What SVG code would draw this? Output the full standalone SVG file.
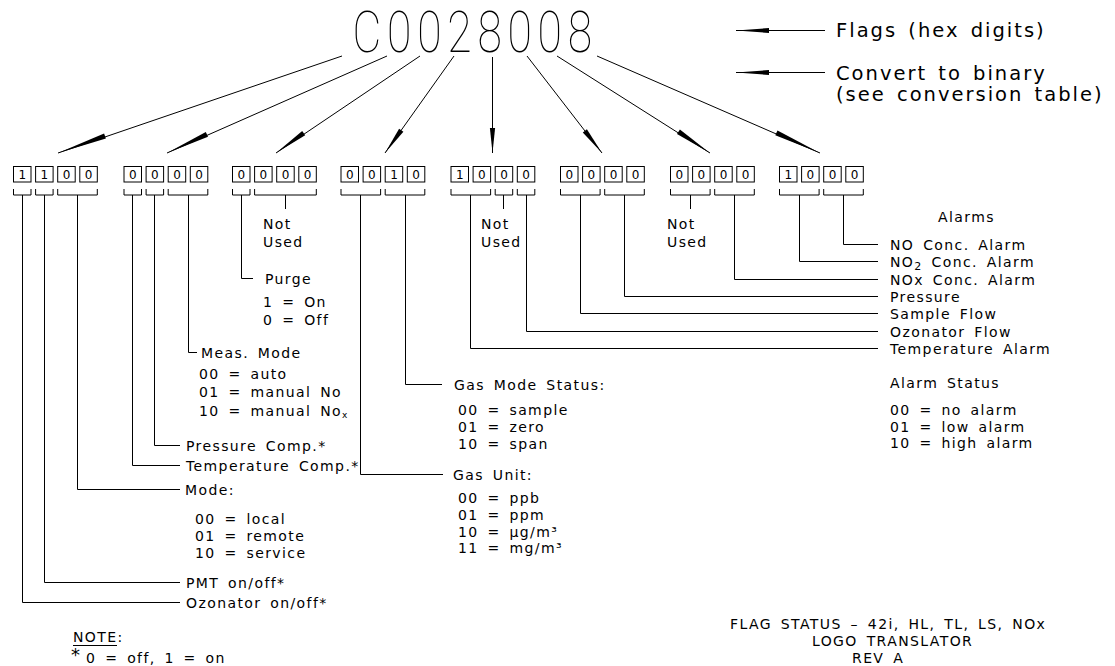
<svg xmlns="http://www.w3.org/2000/svg" width="1115" height="666" viewBox="0 0 1115 666">
<style>
.t{font-family:"DejaVu Sans","Liberation Sans",sans-serif;font-size:14px;letter-spacing:1.4px;word-spacing:3px;fill:#000}
.big{font-size:19.5px;letter-spacing:2px;word-spacing:3px}
.ttl{font-family:"Roboto","Liberation Sans",sans-serif;font-size:57px;font-weight:100;letter-spacing:7.4px;fill:#000}
.d{font-family:"DejaVu Sans","Liberation Sans",sans-serif;font-size:12px;text-anchor:middle;fill:#000}
.bx{fill:#fff;stroke:#000;stroke-width:1}
.ln{fill:none;stroke:#000;stroke-width:1}
.hd{fill:#000;stroke:none}
</style>

<g id="title"><text class="ttl" transform="translate(352.5 52) scale(0.78 1)">C0028008</text></g>

<g id="legend">
<text class="t big" x="836" y="37">Flags (hex digits)</text>
<text class="t big" x="836" y="80">Convert to binary</text>
<text class="t big" x="836" y="101">(see conversion table)</text>
</g>

<g id="bits">
<g id="byte1"><rect class="bx" x="13.5" y="166.5" width="17.5" height="15.5"/><rect class="bx" x="35.6" y="166.5" width="17.5" height="15.5"/><rect class="bx" x="57.7" y="166.5" width="17.5" height="15.5"/><rect class="bx" x="79.8" y="166.5" width="17.5" height="15.5"/>
<text class="d" x="22.3" y="178.5">1</text><text class="d" x="44.4" y="178.5">1</text><text class="d" x="66.5" y="178.5">0</text><text class="d" x="88.6" y="178.5">0</text></g>
<g id="byte2"><rect class="bx" x="124" y="166.5" width="17.5" height="15.5"/><rect class="bx" x="146.1" y="166.5" width="17.5" height="15.5"/><rect class="bx" x="168.2" y="166.5" width="17.5" height="15.5"/><rect class="bx" x="190.3" y="166.5" width="17.5" height="15.5"/>
<text class="d" x="132.8" y="178.5">0</text><text class="d" x="154.9" y="178.5">0</text><text class="d" x="177" y="178.5">0</text><text class="d" x="199.1" y="178.5">0</text></g>
<g id="byte3"><rect class="bx" x="232.5" y="166.5" width="17.5" height="15.5"/><rect class="bx" x="254.6" y="166.5" width="17.5" height="15.5"/><rect class="bx" x="276.7" y="166.5" width="17.5" height="15.5"/><rect class="bx" x="298.8" y="166.5" width="17.5" height="15.5"/>
<text class="d" x="241.3" y="178.5">0</text><text class="d" x="263.4" y="178.5">0</text><text class="d" x="285.5" y="178.5">0</text><text class="d" x="307.6" y="178.5">0</text></g>
<g id="byte4"><rect class="bx" x="341" y="166.5" width="17.5" height="15.5"/><rect class="bx" x="363.1" y="166.5" width="17.5" height="15.5"/><rect class="bx" x="385.2" y="166.5" width="17.5" height="15.5"/><rect class="bx" x="407.3" y="166.5" width="17.5" height="15.5"/>
<text class="d" x="349.8" y="178.5">0</text><text class="d" x="371.9" y="178.5">0</text><text class="d" x="394" y="178.5">1</text><text class="d" x="416.1" y="178.5">0</text></g>
<g id="byte5"><rect class="bx" x="451" y="166.5" width="17.5" height="15.5"/><rect class="bx" x="473.1" y="166.5" width="17.5" height="15.5"/><rect class="bx" x="495.2" y="166.5" width="17.5" height="15.5"/><rect class="bx" x="517.3" y="166.5" width="17.5" height="15.5"/>
<text class="d" x="459.8" y="178.5">1</text><text class="d" x="481.9" y="178.5">0</text><text class="d" x="504" y="178.5">0</text><text class="d" x="526.1" y="178.5">0</text></g>
<g id="byte6"><rect class="bx" x="560.5" y="166.5" width="17.5" height="15.5"/><rect class="bx" x="582.6" y="166.5" width="17.5" height="15.5"/><rect class="bx" x="604.7" y="166.5" width="17.5" height="15.5"/><rect class="bx" x="626.8" y="166.5" width="17.5" height="15.5"/>
<text class="d" x="569.3" y="178.5">0</text><text class="d" x="591.4" y="178.5">0</text><text class="d" x="613.5" y="178.5">0</text><text class="d" x="635.6" y="178.5">0</text></g>
<g id="byte7"><rect class="bx" x="670.5" y="166.5" width="17.5" height="15.5"/><rect class="bx" x="692.6" y="166.5" width="17.5" height="15.5"/><rect class="bx" x="714.7" y="166.5" width="17.5" height="15.5"/><rect class="bx" x="736.8" y="166.5" width="17.5" height="15.5"/>
<text class="d" x="679.3" y="178.5">0</text><text class="d" x="701.4" y="178.5">0</text><text class="d" x="723.5" y="178.5">0</text><text class="d" x="745.6" y="178.5">0</text></g>
<g id="byte8"><rect class="bx" x="779.5" y="166.5" width="17.5" height="15.5"/><rect class="bx" x="801.6" y="166.5" width="17.5" height="15.5"/><rect class="bx" x="823.7" y="166.5" width="17.5" height="15.5"/><rect class="bx" x="845.8" y="166.5" width="17.5" height="15.5"/>
<text class="d" x="788.3" y="178.5">1</text><text class="d" x="810.4" y="178.5">0</text><text class="d" x="832.5" y="178.5">0</text><text class="d" x="854.6" y="178.5">0</text></g>
</g>

<g id="connectors">
<path class="ln" d="M342,56L58,153 M387,56L167,153 M420,56L276,153 M454,56L385,153 M492.5,57V153 M527,56L602,153 M557,56L710,153 M597,56L820,153 M825,30.5H736 M825,72.5H736"/>
<polygon class="hd" points="58,153 104.1,133.5 105.9,138.4"/>
<polygon class="hd" points="167,153 205.8,132 208,136.7"/>
<polygon class="hd" points="276,153 302.2,131.1 305.2,135.3"/>
<polygon class="hd" points="385,153 399.1,128.7 403.4,131.7"/>
<polygon class="hd" points="492.5,153 489.9,128 495.1,128"/>
<polygon class="hd" points="602,153 582.8,132.4 586.9,129.3"/>
<polygon class="hd" points="710,153 677,133.9 679.9,129.6"/>
<polygon class="hd" points="820,153 775.3,135.2 777.5,130.5"/>
<polygon class="hd" points="736,30.5 769,28 769,33"/>
<polygon class="hd" points="736,72.5 769,70 769,75"/>
<path class="ln" d="M13.5,189v6h17.5v-6 M35.6,189v6h17.5v-6 M57.7,189v6h39.6v-6
M124,189v6h17.5v-6 M146.1,189v6h17.5v-6 M168.2,189v6h39.6v-6
M232.5,189v6h17.5v-6 M254.6,189v6h61.7v-6
M341,189v6h39.6v-6 M385.2,189v6h39.6v-6
M451,189v6h39.6v-6 M495.2,189v6h17.5v-6 M517.3,189v6h17.5v-6
M560.5,189v6h39.6v-6 M604.7,189v6h39.6v-6
M670.5,189v6h39.6v-6 M714.7,189v6h39.6v-6
M779.5,189v6h39.6v-6 M823.7,189v6h39.6v-6"/>
<path class="ln" d="M22.5,195V602.5H180 M44.5,195V582.5H180 M77.5,195V489.5H180
M132.5,195V465.5H180 M154.5,195V445.5H180 M188.5,195V352.5H197
M241.5,195V278.5H253 M285.5,195V209
M360.5,195V474.5H443 M405.5,195V384.5H442
M470.5,195V348.5H878 M503.5,195V209 M526.5,195V331.5H878
M580.5,195V313.5H878 M624.5,195V296.5H878
M690.5,195V209 M734.5,195V279.5H878
M799.5,195V261.5H878 M843.5,195V244.5H878"/>
</g>

<g id="left-labels">
<text class="t" x="186" y="607.5">Ozonator on/off*</text>
<text class="t" x="186" y="587.5">PMT on/off*</text>
<text class="t" x="185" y="494.5">Mode:</text>
<text class="t" x="195" y="523.5">00 = local</text>
<text class="t" x="195" y="540.5">01 = remote</text>
<text class="t" x="195" y="558">10 = service</text>
<text class="t" x="186" y="470.5">Temperature Comp.*</text>
<text class="t" x="186" y="450.5">Pressure Comp.*</text>
<text class="t" x="201" y="357.5">Meas. Mode</text>
<text class="t" x="199" y="379">00 = auto</text>
<text class="t" x="199" y="397">01 = manual No</text>
<text class="t" x="199" y="416">10 = manual No<tspan font-size="9" dy="2">x</tspan></text>
<text class="t" x="265" y="283.5">Purge</text>
<text class="t" x="263" y="306.5">1 = On</text>
<text class="t" x="263" y="324.5">0 = Off</text>
<text class="t" x="263" y="229">Not</text>
<text class="t" x="263" y="246.5">Used</text>
</g>

<g id="middle-labels">
<text class="t" x="481" y="229">Not</text>
<text class="t" x="481" y="246.5">Used</text>
<text class="t" x="667" y="229">Not</text>
<text class="t" x="667" y="246.5">Used</text>
<text class="t" x="454" y="389.5">Gas Mode Status:</text>
<text class="t" x="458" y="415">00 = sample</text>
<text class="t" x="458" y="432">01 = zero</text>
<text class="t" x="458" y="449">10 = span</text>
<text class="t" x="453" y="479.5">Gas Unit:</text>
<text class="t" x="458" y="503">00 = ppb</text>
<text class="t" x="458" y="519.5">01 = ppm</text>
<text class="t" x="458" y="536.5">10 = µg/m³</text>
<text class="t" x="458" y="553">11 = mg/m³</text>
</g>

<g id="right-labels">
<text class="t" x="938" y="222">Alarms</text>
<text class="t" x="890" y="249.5">NO Conc. Alarm</text>
<text class="t" x="890" y="266.5">NO<tspan font-size="11" dy="3">2</tspan><tspan dy="-3"> Conc. Alarm</tspan></text>
<text class="t" x="890" y="284.5">NOx Conc. Alarm</text>
<text class="t" x="890" y="301.5">Pressure</text>
<text class="t" x="890" y="318.5">Sample Flow</text>
<text class="t" x="890" y="336.5">Ozonator Flow</text>
<text class="t" x="890" y="353.5">Temperature Alarm</text>
<text class="t" x="890" y="388">Alarm Status</text>
<text class="t" x="890" y="415">00 = no alarm</text>
<text class="t" x="890" y="431.5">01 = low alarm</text>
<text class="t" x="890" y="448">10 = high alarm</text>
</g>

<g id="note">
<text class="t" x="73" y="642">NOTE:</text>
<line class="ln" x1="73" y1="645.5" x2="117" y2="645.5"/>
<text class="t" x="71" y="663"><tspan style="font-size:18px" dy="-2">*</tspan><tspan x="86" dy="2">0 = off, 1 = on</tspan></text>
</g>

<g id="titleblock">
<text class="t" x="730" y="628.5">FLAG STATUS – 42i, HL, TL, LS, NOx</text>
<text class="t" x="812" y="645.5">LOGO TRANSLATOR</text>
<text class="t" x="852" y="662.5">REV A</text>
</g>
</svg>
